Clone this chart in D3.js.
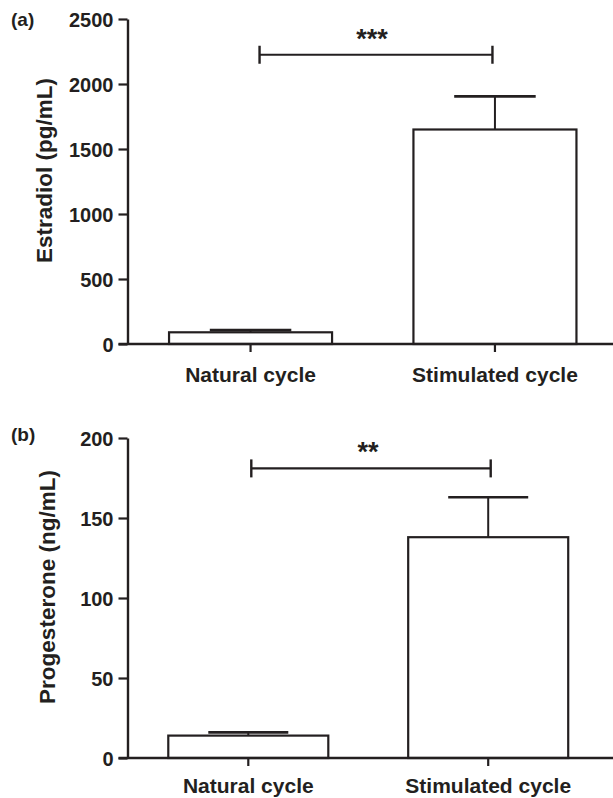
<!DOCTYPE html>
<html>
<head>
<meta charset="utf-8">
<script src="https://cdn.jsdelivr.net/npm/d3@7"></script>
<style>
  html, body { margin: 0; padding: 0; background: #fff; }
  svg { display: block; }
  text { font-family: "Liberation Sans", Arial, Helvetica, sans-serif; font-weight: bold; fill: #231f20; }
</style>
</head>
<body>
<svg id="chart" width="613" height="798"></svg>
<script>
// ---- Data ----
const categories = ["Natural cycle", "Stimulated cycle"];

const estradiolMean = [90, 1650];
const estradiolSEM = [17, 255];
const estradiolTicks = [0, 500, 1000, 1500, 2000, 2500];
const estradiolSig = { label: "***", level: 2225 };

const progesteroneMean = [14, 138];
const progesteroneSEM = [2, 25];
const progesteroneTicks = [0, 50, 100, 150, 200];
const progesteroneSig = { label: "**", level: 181 };

// ---- Drawing ----
const ink = "#231f20";
const svg = d3.select("#chart");
const W = 613;

function drawPanel(o) {
  const g = svg.append("g");
  const x = d3.scaleBand().domain(categories).range([o.x0, o.x1])
    .paddingInner(0.333).paddingOuter(0.17);
  const y = d3.scaleLinear().domain([0, o.ticks[o.ticks.length - 1]]).range([o.yBottom, o.yTop]);

  const data = categories.map((c, i) => ({ c, m: o.mean[i], e: o.sem[i] }));
  const bw = x.bandwidth();

  // error bars (upper only)
  g.selectAll(".err").data(data).enter().append("line")
    .attr("x1", d => x(d.c) + bw / 2).attr("x2", d => x(d.c) + bw / 2)
    .attr("y1", d => y(d.m)).attr("y2", d => y(d.m + d.e))
    .attr("stroke", ink).attr("stroke-width", 2);
  g.selectAll(".cap").data(data).enter().append("line")
    .attr("x1", d => x(d.c) + bw / 4).attr("x2", d => x(d.c) + bw * 3 / 4)
    .attr("y1", d => y(d.m + d.e)).attr("y2", d => y(d.m + d.e))
    .attr("stroke", ink).attr("stroke-width", 2.6);

  // bars
  g.selectAll(".bar").data(data).enter().append("rect")
    .attr("x", d => x(d.c)).attr("width", bw)
    .attr("y", d => y(d.m)).attr("height", d => y(0) - y(d.m))
    .attr("fill", "#fff").attr("stroke", ink).attr("stroke-width", 2.2);

  // y axis
  const ya = g.append("g").attr("transform", `translate(${o.x0},0)`)
    .call(d3.axisLeft(y).tickValues(o.ticks).tickFormat(d3.format("d"))
      .tickSize(9).tickPadding(5).tickSizeOuter(0));
  ya.select(".domain").attr("stroke", ink).attr("stroke-width", 2.4);
  ya.selectAll(".tick line").attr("stroke", ink).attr("stroke-width", 2.2);
  ya.selectAll(".tick text").style("font-size", "20px").attr("fill", ink)
    .attr("font-family", null).attr("dy", "0.36em");

  // x axis
  const xa = g.append("g").attr("transform", `translate(0,${o.yBottom})`)
    .call(d3.axisBottom(x).tickSize(8).tickPadding(o.labelPad).tickSizeOuter(0));
  xa.select(".domain").remove();
  g.append("line").attr("x1", o.x0 - 9).attr("x2", W).attr("y1", o.yBottom).attr("y2", o.yBottom)
    .attr("stroke", ink).attr("stroke-width", 2.4);
  xa.selectAll(".tick line").attr("stroke", ink).attr("stroke-width", 2.2);
  xa.selectAll(".tick text").style("font-size", "21px").attr("fill", ink)
    .attr("font-family", null).attr("dy", "0.71em");

  // significance bracket
  const bx1 = x(categories[0]) + bw / 2 + o.brL;
  const bx2 = x(categories[1]) + bw / 2 + o.brR;
  const by = y(o.sig.level);
  g.append("line").attr("x1", bx1).attr("x2", bx2).attr("y1", by).attr("y2", by)
    .attr("stroke", ink).attr("stroke-width", 2.2);
  [bx1, bx2].forEach(bx => g.append("line").attr("x1", bx).attr("x2", bx)
    .attr("y1", by - 9).attr("y2", by + 9).attr("stroke", ink).attr("stroke-width", 2.4));
  g.append("text").attr("x", (bx1 + bx2) / 2 + o.starDx).attr("y", by - 7)
    .attr("text-anchor", "middle").style("font-size", "27px").text(o.sig.label);

  // y title
  g.append("text").attr("transform", `translate(${o.titleX},${(o.yTop + o.yBottom) / 2 + o.titleDy}) rotate(-90)`)
    .attr("text-anchor", "middle").attr("dy", "0.36em").style("font-size", "22.5px").text(o.title);

  // panel letter
  g.append("text").attr("x", 11).attr("y", o.letterY).style("font-size", "19px").text(o.letter);
}

drawPanel({
  mean: estradiolMean, sem: estradiolSEM, ticks: estradiolTicks, sig: estradiolSig,
  x0: 127.5, x1: 618, yTop: 19, yBottom: 344, labelPad: 15,
  brL: 9, brR: -2.5, starDx: -4, title: "Estradiol (pg/mL)", titleX: 44, titleDy: -11,
  letter: "(a)", letterY: 26
});

drawPanel({
  mean: progesteroneMean, sem: progesteroneSEM, ticks: progesteroneTicks, sig: progesteroneSig,
  x0: 127.5, x1: 609, yTop: 438, yBottom: 758, labelPad: 12,
  brL: 3, brR: 2.5, starDx: -3, title: "Progesterone (ng/mL)", titleX: 47, titleDy: -11,
  letter: "(b)", letterY: 441
});
</script>
</body>
</html>
